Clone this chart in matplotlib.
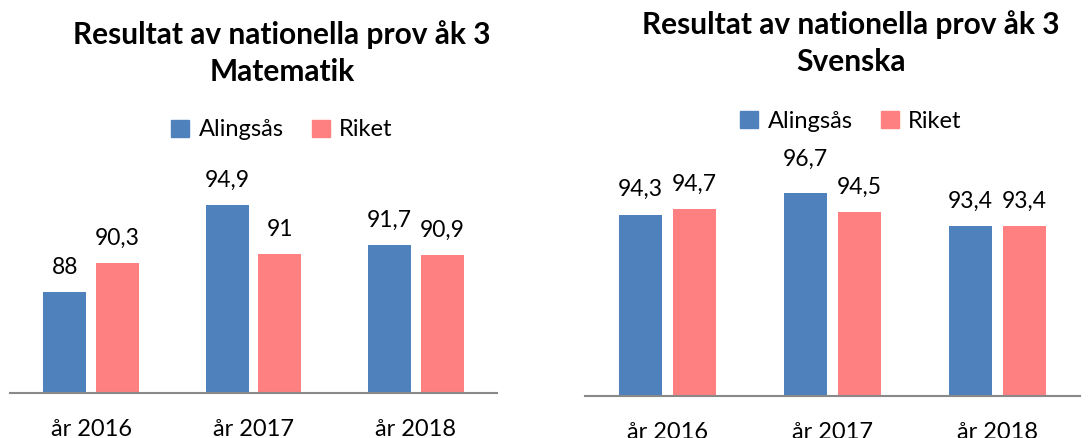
import matplotlib

matplotlib.use("Agg")
import matplotlib.pyplot as plt  # noqa: E402
from matplotlib.patches import Patch  # noqa: E402

plt.rcParams["font.family"] = ["Lato", "DejaVu Sans"]

years = ["år 2016", "år 2017", "år 2018"]
series = ["Alingsås", "Riket"]
matte_alingsas = [88, 94.9, 91.7]
matte_riket = [90.3, 91, 90.9]
svenska_alingsas = [94.3, 96.7, 93.4]
svenska_riket = [94.7, 94.5, 93.4]
colors = ["#4F81BD", "#FF8080"]

W, H = 1091, 438


def px_axes(fig, x0, x1, y_base, y_top):
    return fig.add_axes([x0 / W, 1 - y_base / H, (x1 - x0) / W, (y_base - y_top) / H])


def fmt(v):
    return f"{v:g}".replace(".", ",")


def draw(fig, ax, a_vals, r_vals, lines, cx, title_ys, legend_y):
    bw = 0.265
    off = 0.163
    xs = range(len(years))
    for vals, c, d in ((a_vals, colors[0], -off), (r_vals, colors[1], off)):
        bars = ax.bar([x + d for x in xs], vals, width=bw, color=c)
        for b, v in zip(bars, vals):
            ax.annotate(fmt(v), (b.get_x() + b.get_width() / 2, v),
                        xytext=(0, 18), textcoords="offset points",
                        ha="center", va="center", fontsize=16.5,
                        annotation_clip=False)
    ax.set_xlim(-0.5, 2.5)
    ax.set_ylim(80, 96)
    ax.set_xticks(list(xs))
    ax.set_xticklabels(years, fontsize=17)
    ax.tick_params(axis="x", length=0, pad=19)
    ax.set_yticks([])
    for s in ("left", "right", "top"):
        ax.spines[s].set_visible(False)
    ax.spines["bottom"].set_color("#898989")
    ax.spines["bottom"].set_linewidth(1.5)
    for line, y in zip(lines, title_ys):
        fig.text(cx / W, 1 - y / H, line, fontsize=21.5, fontweight="bold",
                 ha="center", va="center")
    handles = [Patch(color=c, label=s) for c, s in zip(colors, series)]
    fig.legend(handles=handles, loc="center", bbox_to_anchor=(cx / W, 1 - legend_y / H),
               ncol=2, frameon=False, fontsize=17, handlelength=0.75,
               handleheight=0.75, handletextpad=0.4, columnspacing=1.2)


fig = plt.figure(figsize=(W / 100, H / 100), dpi=100)
ax1 = px_axes(fig, 10, 497, 393, 191)
ax2 = px_axes(fig, 585, 1080, 396, 193)
draw(fig, ax1, matte_alingsas, matte_riket,
     ["Resultat av nationella prov åk 3", "Matematik"], 282, (35, 72), 130)
draw(fig, ax2, svenska_alingsas, svenska_riket,
     ["Resultat av nationella prov åk 3", "Svenska"], 851, (25, 62), 121)
fig.savefig("out.png", dpi=100)
